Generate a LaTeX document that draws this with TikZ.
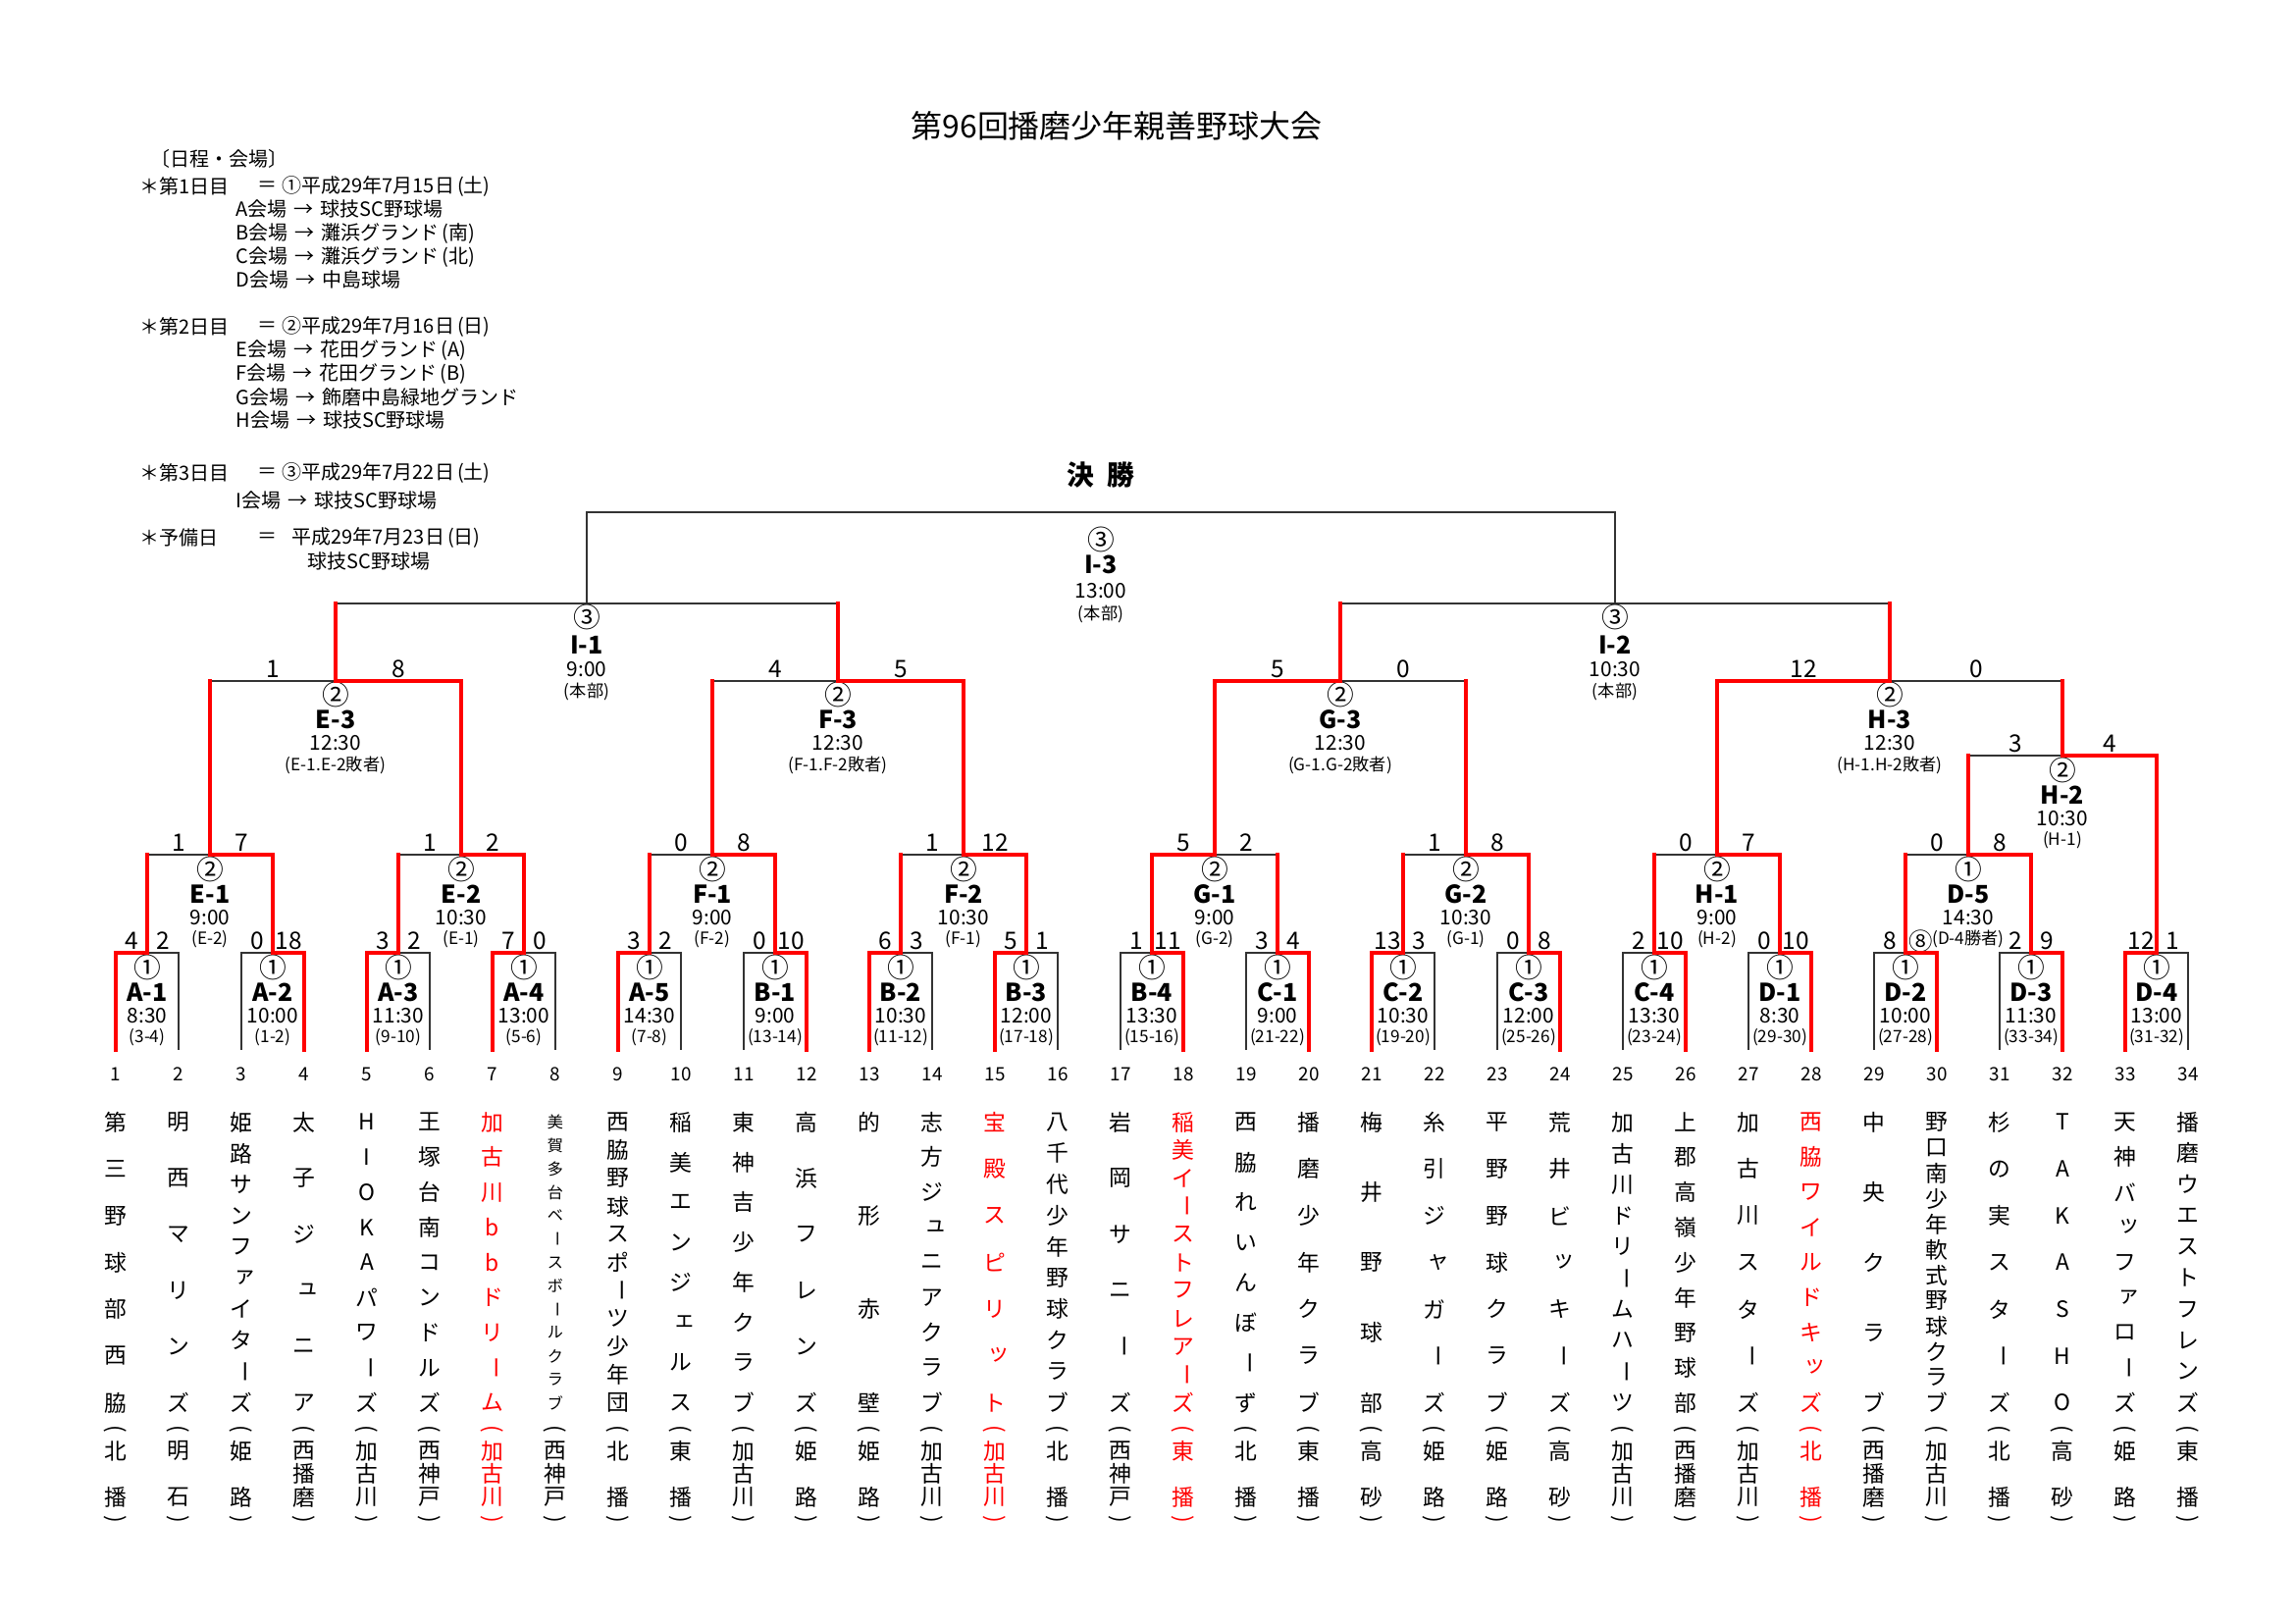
\documentclass[tikz,border=0pt]{standalone}
\usepackage{fontspec}
\usepackage{graphicx}
\setmainfont{Noto Sans CJK JP}
\usetikzlibrary{calc}
\pgfdeclarelayer{fg}
\pgfsetlayers{main,fg}

\makeatletter
\newcommand\vt[2]{\vbox to #1{\offinterlineskip\expandafter\vt@first#2\relax}}
\def\vt@glyph#1{\if ー\noexpand#1\rotatebox[origin=c]{-90}{ー}\else
  \in@{#1}{ァィゥェォッャュョ}\ifin@\kern0.3em\raise0.13em\hbox{#1}\else #1\fi\fi}
\def\vt@item#1{\hbox to 0pt{\hss\vbox to 0pt{\vss\hbox{\vt@glyph{#1}}\vss}\hss}}
\def\vt@first#1{\vt@item{#1}\vt@loop}
\def\vt@loop#1{\ifx\relax#1\else\vfill\vt@item{#1}\expandafter\vt@loop\fi}
\makeatother

\tikzset{
  bk/.style={draw=black!80, line width=0.5pt},
  rd/.style={draw=red, line width=1.6pt, line cap=rect},
  circ/.style={inner sep=0pt, font=\fontsize{10pt}{11pt}\selectfont},
  code/.style={inner sep=0pt, font=\fontsize{9pt}{10pt}\selectfont\bfseries},
  time/.style={inner sep=0pt, font=\fontsize{7.5pt}{8pt}\selectfont},
  note/.style={inner sep=0pt, font=\fontsize{6.2pt}{7pt}\selectfont},
  score/.style={inner sep=0pt, font=\fontsize{8.8pt}{9pt}\selectfont},
  tnum/.style={inner sep=0pt, font=\fontsize{6.8pt}{7pt}\selectfont},
  tname/.style={inner sep=0pt, anchor=north},
  sched/.style={inner sep=0pt, anchor=west, font=\fontsize{7.2pt}{8pt}\selectfont},
}

\def\oa{15}\def\ob{40}\def\oc{64}\def\od{86}
\newcommand\gamelabels[7]{%
  \node[circ] (#1-c) at ($(#1)+(0,\oa)$) {#2};
  \node[code] (#1-n) at ($(#1)+(0,\ob)$) {#3};
  \node[time] (#1-t) at ($(#1)+(0,\oc)$) {#4};
  \node[note] (#1-p) at ($(#1)+(0,\od)$) {#5};
  \node[score] (#1-sl) at ($(#1-l)!0.5!(#1)+(0,-12)$) {#6};
  \node[score] (#1-sr) at ($(#1-r)!0.5!(#1)+(0,-12)$) {#7};
}
\newcommand\gamelabelsns[5]{%
  \node[circ] (#1-c) at ($(#1)+(0,\oa)$) {#2};
  \node[code] (#1-n) at ($(#1)+(0,\ob)$) {#3};
  \node[time] (#1-t) at ($(#1)+(0,\oc)$) {#4};
  \node[note] (#1-p) at ($(#1)+(0,\od)$) {#5};
}
% first round box: id, left team index, code, time, note, score L, score R, winner L/R
\newcommand\firstgame[8]{%
  \pgfmathsetmacro\gxl{118+64*(#2-1)}%
  \pgfmathsetmacro\gxr{\gxl+64}%
  \pgfmathsetmacro\gxm{\gxl+32}%
  \coordinate (#1) at (\gxm,971);
  \coordinate (#1-l) at (\gxl,971);
  \coordinate (#1-r) at (\gxr,971);
  \coordinate (#1-lb) at (\gxl,1070);
  \coordinate (#1-rb) at (\gxr,1070);
  \draw[bk] (#1-lb) -- (#1-l) -- (#1-r) -- (#1-rb);
  \begin{pgfonlayer}{fg}
  \if#8L\draw[rd] (#1-lb) -- (#1-l) -- (#1);\else\draw[rd] (#1-rb) -- (#1-r) -- (#1);\fi
  \end{pgfonlayer}
  \gamelabels{#1}{①}{#3}{#4}{#5}{#6}{#7}
}
% join: id, left child, right child, level, winner L/R/N, children red 1/0
\newcommand\joingame[6]{%
  \path (#2) -- (#3) coordinate[pos=0.5] (#1-mid);
  \coordinate (#1-lev) at (0,#4);
  \coordinate (#1) at (#1-mid |- #1-lev);
  \coordinate (#1-l) at (#2 |- #1);
  \coordinate (#1-r) at (#3 |- #1);
  \draw[bk] (#2) -- (#1-l) -- (#1-r) -- (#3);
  \begin{pgfonlayer}{fg}
  \ifnum#6=1
    \if#5L\draw[rd] (#2) -- (#1-l) -- (#1); \draw[rd] (#3) -- (#1-r);
    \else\if#5R\draw[rd] (#3) -- (#1-r) -- (#1); \draw[rd] (#2) -- (#1-l);
    \else\draw[rd] (#2) -- (#1-l); \draw[rd] (#3) -- (#1-r);\fi\fi
  \fi
  \end{pgfonlayer}
}

\begin{document}
\begin{tikzpicture}[x=0.36pt,y=-0.36pt]
\useasboundingbox (0,0) rectangle (2339,1654);
\fill[white] (0,0) rectangle (2339,1654);

% title
\node[inner sep=0pt, font=\fontsize{11.5pt}{13pt}\selectfont] (title) at (1138,128) {第96回播磨少年親善野球大会};
\node[inner sep=0pt, font=\fontsize{10pt}{12pt}\selectfont\bfseries] (final) at (1122,484) {決\hspace{0.45em}勝};

% schedule
\node[sched] (s0) at (153,162) {〔日程・会場〕};
\node[sched] (s1a) at (142,190) {＊第1日目};
\node[sched] (s1b) at (262,190) {＝};
\node[sched] (s1c) at (287,190) {①平成29年7月15日\hspace{0.15em}(土)};
\node[sched] (s1d) at (240,213) {A会場\hspace{0.35em}→\hspace{0.35em}球技SC野球場};
\node[sched] (s1e) at (240,238) {B会場\hspace{0.35em}→\hspace{0.35em}灘浜グランド\hspace{0.15em}(南)};
\node[sched] (s1f) at (240,262) {C会場\hspace{0.35em}→\hspace{0.35em}灘浜グランド\hspace{0.15em}(北)};
\node[sched] (s1g) at (240,285) {D会場\hspace{0.35em}→\hspace{0.35em}中島球場};
\node[sched] (s2a) at (142,333) {＊第2日目};
\node[sched] (s2b) at (262,333) {＝};
\node[sched] (s2c) at (287,333) {②平成29年7月16日\hspace{0.15em}(日)};
\node[sched] (s2d) at (240,357) {E会場\hspace{0.35em}→\hspace{0.35em}花田グランド\hspace{0.15em}(A)};
\node[sched] (s2e) at (240,381) {F会場\hspace{0.35em}→\hspace{0.35em}花田グランド\hspace{0.15em}(B)};
\node[sched] (s2f) at (240,405) {G会場\hspace{0.35em}→\hspace{0.35em}飾磨中島緑地グランド};
\node[sched] (s2g) at (240,428) {H会場\hspace{0.35em}→\hspace{0.35em}球技SC野球場};
\node[sched] (s3a) at (142,482) {＊第3日目};
\node[sched] (s3b) at (262,482) {＝};
\node[sched] (s3c) at (287,482) {③平成29年7月22日\hspace{0.15em}(土)};
\node[sched] (s3d) at (240,510) {I会場\hspace{0.35em}→\hspace{0.35em}球技SC野球場};
\node[sched] (s4a) at (142,548) {＊予備日};
\node[sched] (s4b) at (262,548) {＝};
\node[sched] (s4c) at (297,548) {平成29年7月23日\hspace{0.15em}(日)};
\node[sched] (s4d) at (313,572) {球技SC野球場};

% first round
\firstgame{A1}{1}{A-1}{8:30}{(3-4)}{4}{2}{L}
\firstgame{A2}{3}{A-2}{10:00}{(1-2)}{0}{18}{R}
\firstgame{A3}{5}{A-3}{11:30}{(9-10)}{3}{2}{L}
\firstgame{A4}{7}{A-4}{13:00}{(5-6)}{7}{0}{L}
\firstgame{A5}{9}{A-5}{14:30}{(7-8)}{3}{2}{L}
\firstgame{B1}{11}{B-1}{9:00}{(13-14)}{0}{10}{R}
\firstgame{B2}{13}{B-2}{10:30}{(11-12)}{6}{3}{L}
\firstgame{B3}{15}{B-3}{12:00}{(17-18)}{5}{1}{L}
\firstgame{B4}{17}{B-4}{13:30}{(15-16)}{1}{11}{R}
\firstgame{C1}{19}{C-1}{9:00}{(21-22)}{3}{4}{R}
\firstgame{C2}{21}{C-2}{10:30}{(19-20)}{13}{3}{L}
\firstgame{C3}{23}{C-3}{12:00}{(25-26)}{0}{8}{R}
\firstgame{C4}{25}{C-4}{13:30}{(23-24)}{2}{10}{R}
\firstgame{D1}{27}{D-1}{8:30}{(29-30)}{0}{10}{R}
\firstgame{D2}{29}{D-2}{10:00}{(27-28)}{8}{⑧}{R}
\firstgame{D3}{31}{D-3}{11:30}{(33-34)}{2}{9}{R}
\firstgame{D4}{33}{D-4}{13:00}{(31-32)}{12}{1}{L}

% second round
\joingame{E1}{A1}{A2}{871}{R}{1}
\gamelabels{E1}{②}{E-1}{9:00}{(E-2)}{1}{7}
\joingame{E2}{A3}{A4}{871}{R}{1}
\gamelabels{E2}{②}{E-2}{10:30}{(E-1)}{1}{2}
\joingame{F1}{A5}{B1}{871}{R}{1}
\gamelabels{F1}{②}{F-1}{9:00}{(F-2)}{0}{8}
\joingame{F2}{B2}{B3}{871}{R}{1}
\gamelabels{F2}{②}{F-2}{10:30}{(F-1)}{1}{12}
\joingame{G1}{B4}{C1}{871}{L}{1}
\gamelabels{G1}{②}{G-1}{9:00}{(G-2)}{5}{2}
\joingame{G2}{C2}{C3}{871}{R}{1}
\gamelabels{G2}{②}{G-2}{10:30}{(G-1)}{1}{8}
\joingame{H1}{C4}{D1}{871}{R}{1}
\gamelabels{H1}{②}{H-1}{9:00}{(H-2)}{0}{7}
\joingame{D5}{D2}{D3}{871}{R}{1}
\gamelabels{D5}{①}{D-5}{14:30}{(D-4勝者)}{0}{8}
\joingame{H2}{D5}{D4}{770}{R}{1}
\gamelabels{H2}{②}{H-2}{10:30}{(H-1)}{3}{4}

% third round
\def\oa{14}\def\ob{39}\def\oc{63}\def\od{86}
\joingame{E3}{E1}{E2}{694}{R}{1}
\gamelabels{E3}{②}{E-3}{12:30}{(E-1.E-2敗者)}{1}{8}
\joingame{F3}{F1}{F2}{694}{R}{1}
\gamelabels{F3}{②}{F-3}{12:30}{(F-1.F-2敗者)}{4}{5}
\joingame{G3}{G1}{G2}{694}{L}{1}
\gamelabels{G3}{②}{G-3}{12:30}{(G-1.G-2敗者)}{5}{0}
\joingame{H3}{H1}{H2}{694}{L}{1}
\gamelabels{H3}{②}{H-3}{12:30}{(H-1.H-2敗者)}{12}{0}

% semi finals and final
\def\oa{14}\def\ob{42}\def\oc{67}\def\od{90}
\joingame{I1}{E3}{F3}{615}{N}{1}
\gamelabelsns{I1}{③}{I-1}{9:00}{(本部)}
\joingame{I2}{G3}{H3}{615}{N}{1}
\gamelabelsns{I2}{③}{I-2}{10:30}{(本部)}
\def\oa{28}\def\ob{53}\def\oc{80}\def\od{104}
\joingame{I3}{I1}{I2}{522}{N}{0}
\gamelabelsns{I3}{③}{I-3}{13:00}{(本部)}

% teams
\foreach \n/\nm/\rg/\cl/\sz in {
 1/第三野球部西脇/北播/black/8.2,
 2/明西マリンズ/明石/black/8.2,
 3/姫路サンファイターズ/姫路/black/8.2,
 4/太子ジュニア/西播磨/black/8.2,
 5/HIOKAパワーズ/加古川/black/8.2,
 6/王塚台南コンドルズ/西神戸/black/8.2,
 7/加古川bbドリーム/加古川/red/8.2,
 8/美賀多台ベースボールクラブ/西神戸/black/5.8,
 9/西脇野球スポーツ少年団/北播/black/8.2,
 10/稲美エンジェルス/東播/black/8.2,
 11/東神吉少年クラブ/加古川/black/8.2,
 12/高浜フレンズ/姫路/black/8.2,
 13/的形赤壁/姫路/black/8.2,
 14/志方ジュニアクラブ/加古川/black/8.2,
 15/宝殿スピリット/加古川/red/8.2,
 16/八千代少年野球クラブ/北播/black/8.2,
 17/岩岡サニーズ/西神戸/black/8.2,
 18/稲美イーストフレアーズ/東播/red/8.2,
 19/西脇れいんぼーず/北播/black/8.2,
 20/播磨少年クラブ/東播/black/8.2,
 21/梅井野球部/高砂/black/8.2,
 22/糸引ジャガーズ/姫路/black/8.2,
 23/平野野球クラブ/姫路/black/8.2,
 24/荒井ビッキーズ/高砂/black/8.2,
 25/加古川ドリームハーツ/加古川/black/8.2,
 26/上郡高嶺少年野球部/西播磨/black/8.2,
 27/加古川スターズ/加古川/black/8.2,
 28/西脇ワイルドキッズ/北播/red/8.2,
 29/中央クラブ/西播磨/black/8.2,
 30/野口南少年軟式野球クラブ/加古川/black/8.2,
 31/杉の実スターズ/北播/black/8.2,
 32/TAKASHO/高砂/black/8.2,
 33/天神バッファローズ/姫路/black/8.2,
 34/播磨ウエストフレンズ/東播/black/8.2}{
  \pgfmathsetmacro\tx{118+64*(\n-1)}
  \node[tnum] (num\n) at (\tx,1095) {\n};
  \node[tname, text=\cl, font=\fontsize{\sz pt}{\sz pt}\selectfont] (name\n) at (\tx,1143) {\vt{102.96pt}{\nm}};
  \node[inner sep=0pt, text=\cl, font=\fontsize{8.2pt}{9pt}\selectfont] (po\n) at (\tx,1458) {\rotatebox[origin=c]{-90}{(}};
  \node[tname, text=\cl, font=\fontsize{8.2pt}{9pt}\selectfont] (reg\n) at (\tx,1478) {\vt{16.92pt}{\rg}};
  \node[inner sep=0pt, text=\cl, font=\fontsize{8.2pt}{9pt}\selectfont] (pc\n) at (\tx,1550) {\rotatebox[origin=c]{-90}{)}};
}
\end{tikzpicture}
\end{document}
